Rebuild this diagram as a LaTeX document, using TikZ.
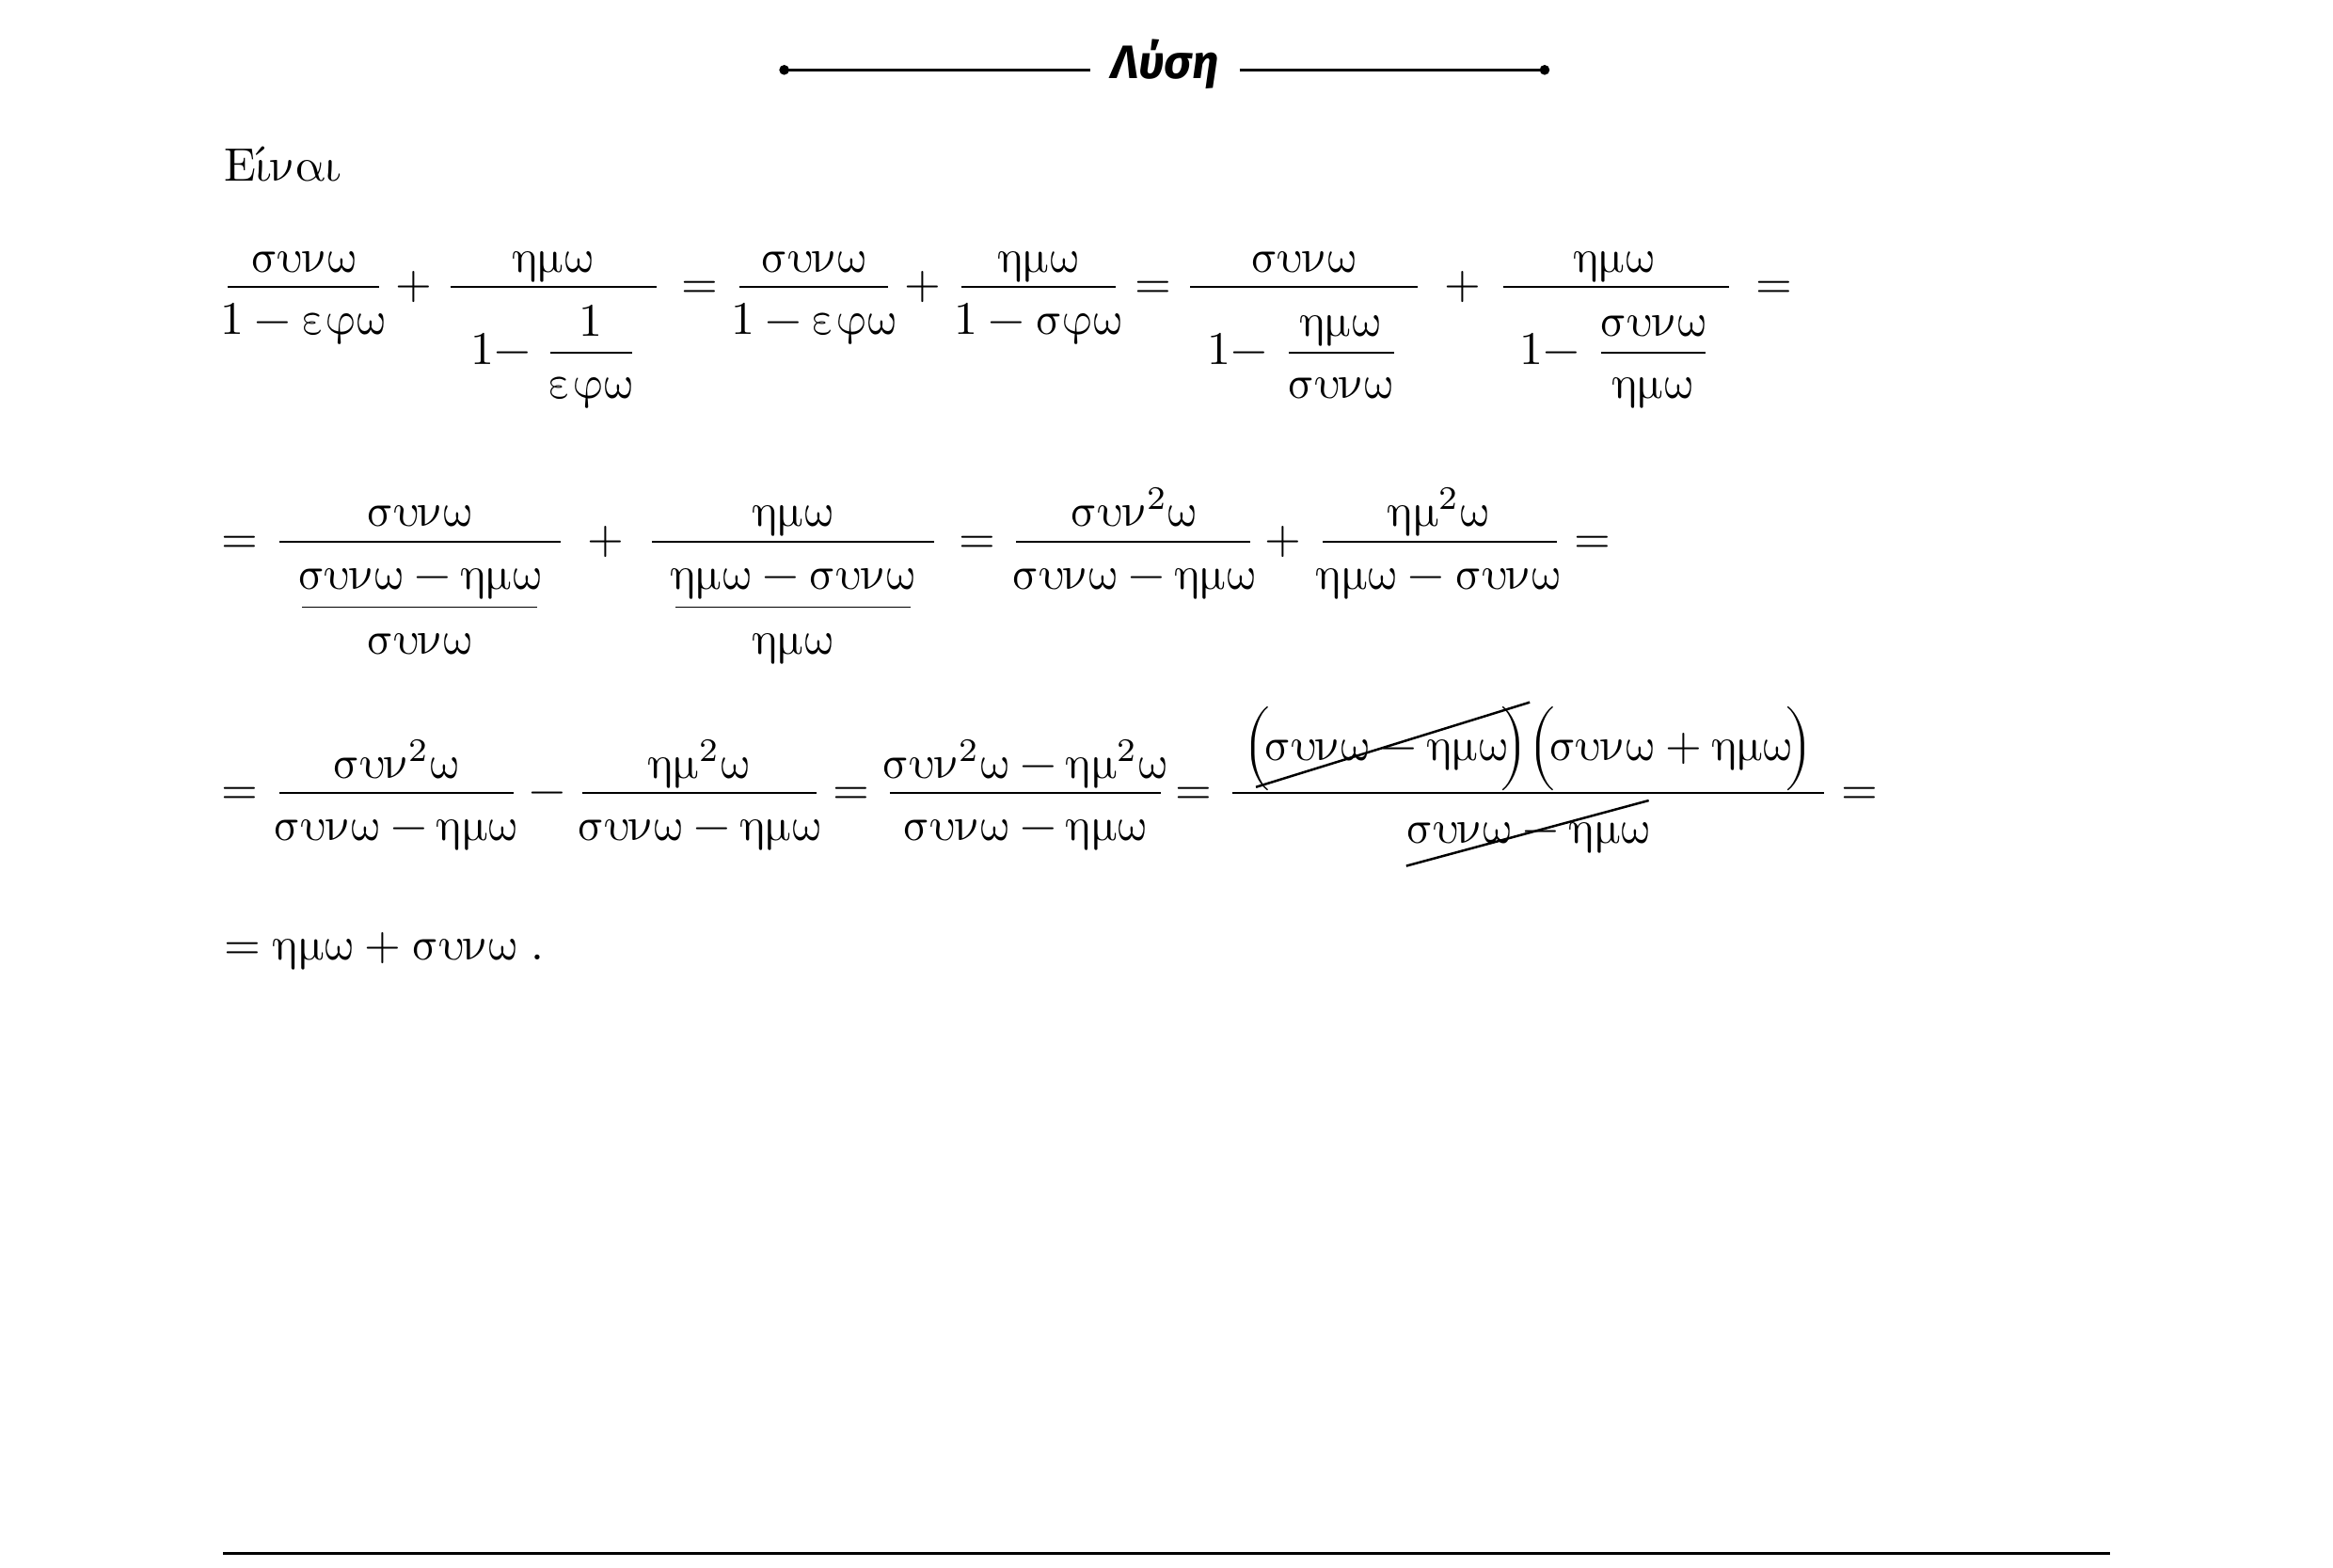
\documentclass[tikz,border=0pt,12pt]{standalone}
\usepackage{fontspec}
\usepackage[math-style=upright]{unicode-math}
\setmathfont{Latin Modern Math}
\newfontfamily\titlefont{Fira Sans}

\tikzset{
  bar/.style={line width=0.5pt},
  thinbar/.style={line width=0.4pt},
  rule/.style={line width=0.8pt},
  txt/.style={inner sep=0pt, anchor=base},
  strike/.style={line width=0.6pt}
}

\begin{document}
\begin{tikzpicture}[x=0.13393mm, y=-0.13393mm]
  \useasboundingbox (0,0) rectangle (1567.8,1053.3);
  % heading
  \node[txt] (title) at (783,53) {\titlefont\bfseries\itshape\fontsize{12}{14}\selectfont Λύση};
  \coordinate (tl) at (527,47);
  \coordinate (tr) at (1038,47);
  \fill (tl) circle[radius=0.45mm];
  \fill (tr) circle[radius=0.45mm];
  \draw[rule] (tl) -- (733,47);
  \draw[rule] (833,47) -- (tr);
  \node[txt, anchor=base west] (intro) at (150,122) {$Ε\acute{ι}ναι$};

  % first line
  \draw[bar] (153,193) -- (255,193);
  \node[txt] (n1) at (204,183) {$συνω$};
  \node[txt] (d1) at (204,225) {$1-εφω$};
  \node[txt] (p1) at (278,201) {$+$};
  \draw[bar] (303,193) -- (441,193);
  \node[txt] (n2) at (372,183) {$ημω$};
  \node[txt, anchor=base west] (d2) at (316,245) {$1-$};
  \draw[thinbar] (370,237) -- (425,237);
  \node[txt] (d2n) at (397,226) {$1$};
  \node[txt] (d2d) at (397,268) {$εφω$};
  \node[txt] (e1) at (470,201) {$=$};
  \draw[bar] (497,193) -- (597,193);
  \node[txt] (n3) at (547,183) {$συνω$};
  \node[txt] (d3) at (547,225) {$1-εφω$};
  \node[txt] (p2) at (620,201) {$+$};
  \draw[bar] (646,193) -- (750,193);
  \node[txt] (n4) at (698,183) {$ημω$};
  \node[txt] (d4) at (698,225) {$1-σφω$};
  \node[txt] (e2) at (775,201) {$=$};
  \draw[bar] (800,193) -- (953,193);
  \node[txt] (n5) at (876,183) {$συνω$};
  \node[txt, anchor=base west] (d5) at (811,245) {$1-$};
  \draw[thinbar] (866,237) -- (937,237);
  \node[txt] (d5n) at (901,226) {$ημω$};
  \node[txt] (d5d) at (901,268) {$συνω$};
  \node[txt] (p3) at (983,201) {$+$};
  \draw[bar] (1010,193) -- (1162,193);
  \node[txt] (n6) at (1085,183) {$ημω$};
  \node[txt, anchor=base west] (d6) at (1021,245) {$1-$};
  \draw[thinbar] (1076,237) -- (1146,237);
  \node[txt] (d6n) at (1111,226) {$συνω$};
  \node[txt] (d6d) at (1111,268) {$ημω$};
  \node[txt] (e3) at (1192,201) {$=$};

  % second line
  \node[txt] (e4) at (161,372) {$=$};
  \draw[bar] (188,364) -- (377,364);
  \node[txt] (n7) at (282,354) {$συνω$};
  \node[txt] (d7) at (282,396) {$συνω-ημω$};
  \draw[thinbar] (203,408) -- (361,408);
  \node[txt] (d7d) at (282,440) {$συνω$};
  \node[txt] (p4) at (407,372) {$+$};
  \draw[bar] (438,364) -- (628,364);
  \node[txt] (n8) at (533,354) {$ημω$};
  \node[txt] (d8) at (533,396) {$ημω-συνω$};
  \draw[thinbar] (454,408) -- (612,408);
  \node[txt] (d8d) at (533,440) {$ημω$};
  \node[txt] (e5) at (657,372) {$=$};
  \draw[bar] (683,364) -- (840,364);
  \node[txt] (n9) at (762,354) {$συν^2ω$};
  \node[txt] (d9) at (762,396) {$συνω-ημω$};
  \node[txt] (p5) at (862,372) {$+$};
  \draw[bar] (889,364) -- (1046,364);
  \node[txt] (n10) at (967,354) {$ημ^2ω$};
  \node[txt] (d10) at (967,396) {$ημω-συνω$};
  \node[txt] (e6) at (1070,372) {$=$};

  % third line
  \node[txt] (e7) at (161,541) {$=$};
  \draw[bar] (188,533) -- (345,533);
  \node[txt] (n11) at (266,523) {$συν^2ω$};
  \node[txt] (d11) at (266,565) {$συνω-ημω$};
  \node[txt] (m1) at (368,541) {$-$};
  \draw[bar] (391,533) -- (549,533);
  \node[txt] (n12) at (470,523) {$ημ^2ω$};
  \node[txt] (d12) at (470,565) {$συνω-ημω$};
  \node[txt] (e8) at (572,541) {$=$};
  \draw[bar] (598,533) -- (780,533);
  \node[txt] (n13) at (689,523) {$συν^2ω-ημ^2ω$};
  \node[txt] (d13) at (689,565) {$συνω-ημω$};
  \node[txt] (e9) at (802,541) {$=$};
  \draw[bar] (828,533) -- (1226,533);
  \node[txt] (n14) at (1027,511) {$\Bigl(\!συνω-ημω\!\Bigr)\Bigl(\!συνω+ημω\!\Bigr)$};
  \node[txt] (d14) at (1027,567) {$συνω-ημω$};
  \draw[strike] (844,529) -- (1028,472);
  \draw[strike] (945,582) -- (1108,538);
  \node[txt] (e10) at (1250,541) {$=$};

  % last line
  \node[txt, anchor=base west] (res) at (150,645) {$=ημω+συνω\;.$};

  \draw[line width=0.6pt] (150,1044) -- (1418,1044);
\end{tikzpicture}
\end{document}
